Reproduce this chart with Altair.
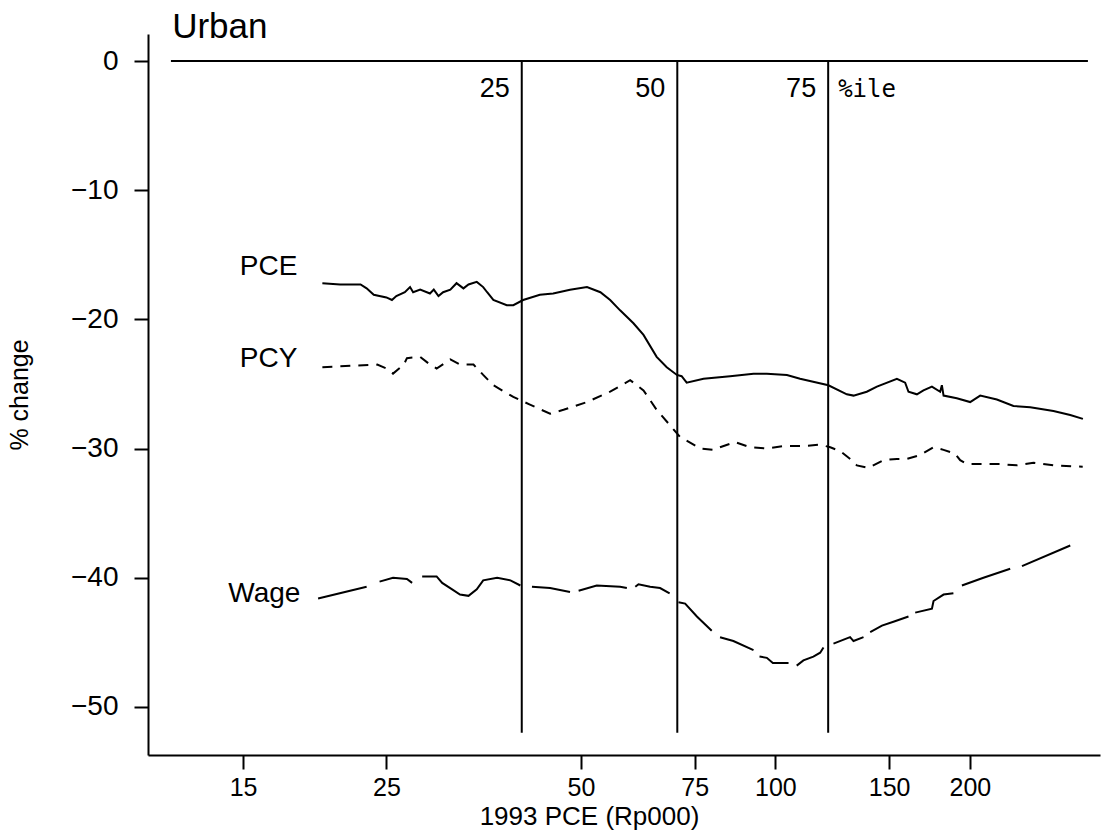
import altair as alt
import pandas as pd

# ---------------- data ----------------
pce_x = [19.9, 21.2, 22.8, 23.3, 23.9, 25.0, 25.5, 25.9, 26.7, 27.2, 27.5, 28.2, 29.2, 29.6,
         30.1, 30.6, 31.4, 32.1, 32.9, 33.5, 34.5, 35.3, 35.8, 36.6, 38.4, 39.3, 40.7, 43.2,
         45.3, 48.1, 51.1, 53.6, 55.5, 57.5, 60.3, 62.5, 65.5, 67.9, 70.4, 71.6, 72.9, 77.4,
         85.1, 92.5, 97.0, 104.2, 109.2, 120.8, 129.0, 132.1, 138.5, 143.6, 154.2, 158.8,
         160.7, 165.6, 169.5, 174.7, 179.9, 181.0, 182.1, 190.9, 200.2, 207.5, 220.2, 233.6,
         248.0, 269.4, 286.0, 299.2]
pce_y = [-17.2, -17.3, -17.3, -17.6, -18.1, -18.3, -18.5, -18.2, -17.9, -17.5, -17.9, -17.7,
         -18.0, -17.7, -18.2, -17.9, -17.7, -17.2, -17.6, -17.3, -17.1, -17.5, -17.9, -18.5,
         -18.9, -18.9, -18.5, -18.1, -18.0, -17.7, -17.5, -17.9, -18.5, -19.3, -20.3, -21.2,
         -22.9, -23.7, -24.3, -24.4, -24.9, -24.6, -24.4, -24.2, -24.2, -24.3, -24.6, -25.1,
         -25.8, -25.9, -25.6, -25.2, -24.6, -24.9, -25.6, -25.8, -25.5, -25.2, -25.6, -25.1,
         -25.9, -26.1, -26.4, -25.9, -26.2, -26.7, -26.8, -27.1, -27.4, -27.7]

pcy_x = [19.9, 24.2, 25.0, 25.6, 26.6, 26.9, 28.2, 29.2, 29.9, 31.4, 32.5, 34.1, 35.3, 36.6,
         39.3, 41.7, 44.8, 47.0, 51.1, 55.5, 59.6, 62.5, 65.5, 68.7, 71.2, 76.5, 80.2, 82.1,
         86.6, 91.4, 97.0, 102.9, 110.5, 117.3, 121.6, 126.0, 131.3, 133.7, 139.3, 147.0,
         154.2, 159.8, 167.6, 175.7, 182.1, 189.8, 193.2, 197.8, 209.9, 222.8, 236.5, 250.9,
         269.4, 299.0]
pcy_y = [-23.7, -23.5, -23.8, -24.2, -23.5, -23.0, -22.9, -23.5, -23.8, -23.1, -23.5, -23.5,
         -24.3, -25.1, -26.0, -26.6, -27.3, -27.0, -26.4, -25.6, -24.7, -25.5, -27.0, -28.2,
         -29.1, -30.0, -30.1, -29.9, -29.5, -29.9, -30.0, -29.8, -29.8, -29.7, -29.9, -30.2,
         -30.9, -31.3, -31.5, -30.9, -30.8, -30.8, -30.5, -29.9, -30.1, -30.4, -30.9, -31.2,
         -31.2, -31.2, -31.3, -31.1, -31.3, -31.4]

wage_x = [19.6, 23.3,
          24.4, 25.6, 26.9, 27.4,
          28.4, 29.9, 30.5, 31.6, 32.5, 33.5, 34.5, 35.3, 37.1, 38.9, 40.3,
          42.0, 44.8, 48.1,
          49.6, 52.9, 57.5, 58.9,
          60.7, 61.4, 64.0, 66.3, 68.6,
          70.8, 72.5, 75.6, 79.7,
          82.1, 86.1, 92.5,
          94.5, 97.0, 99.1, 104.8,
          107.9, 110.5, 114.5, 117.3, 118.7,
          123.0, 130.5, 132.1, 136.9,
          140.2, 146.2, 152.3, 160.7,
          164.6, 174.7, 175.7, 182.1, 188.6,
          194.4, 209.9, 230.9,
          240.8, 286.0]
wage_y = [-41.6, -40.7,
          -40.3, -40.0, -40.1, -40.4,
          -39.9, -39.9, -40.4, -40.9, -41.3, -41.4, -40.9, -40.2, -40.0, -40.2, -40.6,
          -40.7, -40.8, -41.1,
          -41.0, -40.6, -40.7, -40.8,
          -40.7, -40.5, -40.7, -40.8, -41.2,
          -41.9, -42.0, -43.0, -44.1,
          -44.6, -44.9, -45.6,
          -46.1, -46.2, -46.6, -46.6,
          -46.8, -46.4, -46.1, -45.8, -45.4,
          -45.1, -44.6, -44.9, -44.6,
          -44.2, -43.7, -43.4, -43.0,
          -42.7, -42.4, -41.8, -41.3, -41.2,
          -40.6, -40.0, -39.3,
          -39.1, -37.5]
wage_seg = ([1] * 2 + [2] * 4 + [3] * 11 + [4] * 3 + [5] * 4 + [6] * 5 + [7] * 4 + [8] * 3
            + [9] * 4 + [10] * 5 + [11] * 4 + [12] * 4 + [13] * 5 + [14] * 3 + [15] * 2)

pct_x = [40.5, 70.5, 120.7]
pct_labels = ["25", "50", "75"]
pct_top = 0
pct_bottom = -52

zero_x = [11.6, 304.6]

series_names = ["PCE", "PCY", "Wage"]
series_label_x = [18.2, 18.2, 18.4]
series_label_y = [-16.6, -23.7, -41.9]

x_ticks = [15, 25, 50, 75, 100, 150, 200]
y_ticks = [0, -10, -20, -30, -40, -50]

# ---------------- tables ----------------
pce_df = pd.DataFrame({"x": pce_x, "y": pce_y})
pcy_df = pd.DataFrame({"x": pcy_x, "y": pcy_y})
wage_df = pd.DataFrame({"x": wage_x, "y": wage_y, "seg": wage_seg})
pct_df = pd.DataFrame({"x": pct_x, "label": pct_labels, "y0": [pct_top] * 3,
                       "y1": [pct_bottom] * 3, "ly": [-2.8] * 3})
ile_df = pd.DataFrame({"x": [pct_x[-1]], "ly": [-2.8], "label": ["%ile"]})
zero_df = pd.DataFrame({"x": [zero_x[0]], "x2": [zero_x[1]], "y": [0]})
lab_df = pd.DataFrame({"x": series_label_x, "y": series_label_y, "label": series_names})
title_df = pd.DataFrame({"x": [11.65], "y": [1.78], "label": ["Urban"]})

xs = alt.Scale(type="log", domain=[10.69, 318], nice=False)
ys = alt.Scale(domain=[-53.72, 2.09], nice=False, zero=False)

xaxis = alt.Axis(values=x_ticks, title="1993 PCE (Rp000)", labelFontSize=25,
                 labelFont="Liberation Sans", titleFont="Liberation Sans", titleFontSize=26,
                 titleFontWeight="normal", labelPadding=6, titlePadding=3, labelFlush=False,
                 titleX=441, titleAlign="center")
yaxis = alt.Axis(values=y_ticks, title="% change", labelFontSize=28, labelFont="Liberation Sans",
                 titleFont="Liberation Sans", titleFontSize=25, titleFontWeight="normal",
                 labelPadding=16, titlePadding=38, format="d")


def X(field):
    return alt.X(field, type="quantitative", scale=xs, axis=xaxis)


def Y(field):
    return alt.Y(field, type="quantitative", scale=ys, axis=yaxis)


pce_line = alt.Chart(pce_df).mark_line(color="black", strokeWidth=2).encode(
    x=X("x"), y=Y("y"))
pcy_line = alt.Chart(pcy_df).mark_line(color="black", strokeWidth=2,
                                       strokeDash=[10, 8]).encode(x=X("x"), y=Y("y"))
wage_line = alt.Chart(wage_df).mark_line(color="black", strokeWidth=2).encode(
    x=X("x"), y=Y("y"), detail="seg:N")

pct_rules = alt.Chart(pct_df).mark_rule(color="black", strokeWidth=2).encode(
    x=X("x"), y=Y("y0"), y2="y1")
pct_text = alt.Chart(pct_df).mark_text(align="right", baseline="alphabetic", dx=-12,
                                       fontSize=27, font="Liberation Sans",
                                       color="black").encode(x=X("x"), y=Y("ly"), text="label")
ile_text = alt.Chart(ile_df).mark_text(align="left", baseline="alphabetic", dx=10,
                                       fontSize=24, font="DejaVu Sans Mono",
                                       color="black").encode(x=X("x"), y=Y("ly"), text="label")
zero_rule = alt.Chart(zero_df).mark_rule(color="black", strokeWidth=2).encode(
    x=X("x"), x2="x2", y=Y("y"))
labels = alt.Chart(lab_df).mark_text(align="right", baseline="alphabetic", fontSize=28,
                                     font="Liberation Sans", color="black").encode(
    x=X("x"), y=Y("y"), text="label")
title = alt.Chart(title_df).mark_text(align="left", baseline="alphabetic", fontSize=35,
                                      font="Liberation Sans", color="black").encode(
    x=X("x"), y=Y("y"), text="label")

chart = alt.layer(
    pce_line, pcy_line, wage_line, pct_rules, zero_rule, pct_text, ile_text, labels, title
).properties(
    width=952, height=721,
    padding={"left": 148, "top": 34, "right": 2, "bottom": 79},
    autosize=alt.AutoSizeParams(type="none"),
).configure_view(stroke=None).configure_axis(
    grid=False, domainColor="black", domainWidth=2, tickColor="black", tickWidth=2,
    tickSize=14, labelColor="black", titleColor="black"
)

chart.save("out.html", embed_options={"renderer": "svg", "actions": False})
